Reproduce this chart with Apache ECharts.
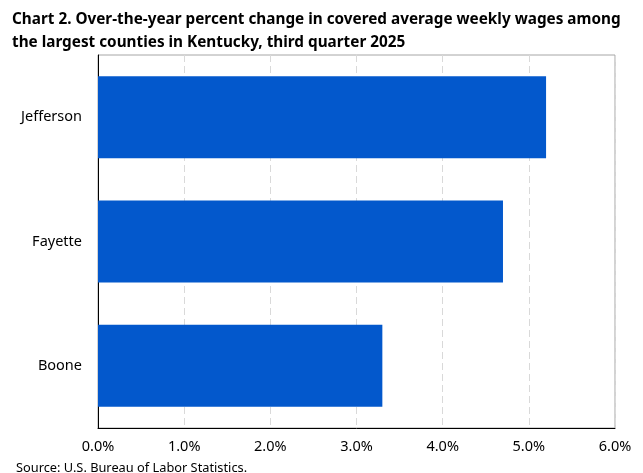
<!DOCTYPE html>
<html>
<head>
<meta charset="utf-8">
<script src="https://cdn.jsdelivr.net/npm/echarts@6/dist/echarts.min.js"></script>
<style>
  html, body { margin: 0; padding: 0; background: #fff; }
  #chart { width: 643px; height: 473px; }
</style>
</head>
<body>
<div id="chart"></div>
<script>
var counties = ['Boone', 'Fayette', 'Jefferson'];
var wageChange = [3.3, 4.7, 5.2];
var xTicks = [0, 1, 2, 3, 4, 5, 6];

var font = 'Noto Sans';
var chart = echarts.init(document.getElementById('chart'));

chart.setOption({
  animation: false,
  textStyle: { fontFamily: font },
  title: [{
    text: 'Chart 2. Over-the-year percent change in covered average weekly wages among\nthe largest counties in Kentucky, third quarter 2025',
    left: 7,
    top: 3,
    textStyle: { fontSize: 15.3, fontWeight: 'bold', color: '#000', lineHeight: 23, fontFamily: font }
  }, {
    text: 'Source: U.S. Bureau of Labor Statistics.',
    left: 11,
    top: 457,
    textStyle: { fontSize: 12.8, fontWeight: 'normal', color: '#000', fontFamily: font }
  }],
  grid: {
    left: 98,
    right: 28,
    top: 55,
    bottom: 45,
    show: true,
    borderColor: '#a6a6a6',
    borderWidth: 1
  },
  xAxis: {
    type: 'value',
    min: xTicks[0],
    max: xTicks[xTicks.length - 1],
    interval: 1,
    axisLine: { show: true, lineStyle: { color: '#000', width: 1 } },
    axisTick: { show: false },
    splitLine: { show: true, lineStyle: { color: '#d9d9d9', type: [7, 4] } },
    axisLabel: {
      color: '#000',
      fontSize: 14.5,
      margin: 11,
      formatter: function (v) { return v.toFixed(1) + '%'; }
    }
  },
  yAxis: {
    type: 'category',
    data: counties,
    axisLine: { show: true, lineStyle: { color: '#000', width: 1 } },
    axisTick: { show: false },
    axisLabel: { color: '#000', fontSize: 14.5, margin: 16 }
  },
  series: [{
    type: 'bar',
    data: wageChange,
    barCategoryGap: '34%',
    itemStyle: { color: '#0358CC' }
  }]
});
</script>
</body>
</html>
